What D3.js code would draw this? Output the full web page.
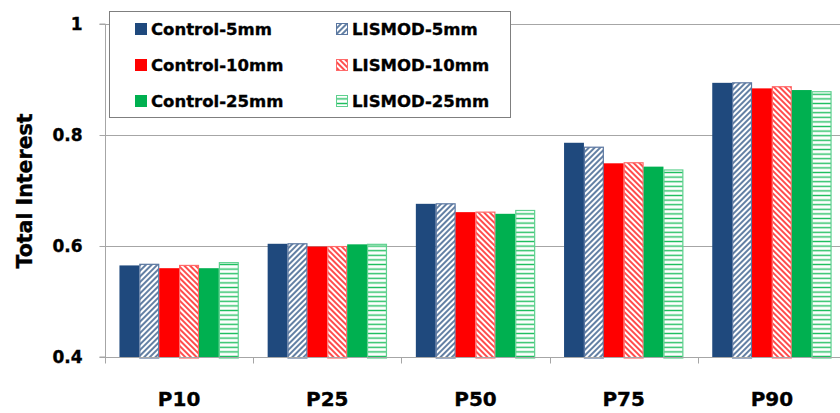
<!DOCTYPE html>
<html>
<head>
<meta charset="utf-8">
<script src="https://cdn.jsdelivr.net/npm/d3@7"></script>
<style>
  html, body { margin: 0; padding: 0; background: #fff; }
  svg { display: block; }
  text { font-family: "DejaVu Sans", Verdana, sans-serif; font-weight: bold; fill: #000;
         stroke: #000; stroke-width: 0.35px; }
</style>
</head>
<body>
<svg id="chart" width="840" height="413"></svg>
<script>
// Percentile groups along the x axis
const categories = ["P10", "P25", "P50", "P75", "P90"];

// One array per series, in the order of the categories
const control5  = [0.565, 0.604, 0.676, 0.786, 0.894];
const lismod5   = [0.567, 0.604, 0.676, 0.778, 0.894];
const control10 = [0.560, 0.599, 0.661, 0.749, 0.884];
const lismod10  = [0.565, 0.599, 0.661, 0.750, 0.887];
const control25 = [0.560, 0.603, 0.658, 0.743, 0.881];
const lismod25  = [0.570, 0.603, 0.664, 0.737, 0.878];

const seriesNames = ["Control-5mm", "LISMOD-5mm", "Control-10mm", "LISMOD-10mm", "Control-25mm", "LISMOD-25mm"];
const seriesValues = [control5, lismod5, control10, lismod10, control25, lismod25];

const yTicks = [0.4, 0.6, 0.8, 1];
const yTickLabels = ["0.4", "0.6", "0.8", "1"];

// Fill styles: solid for Control, hatched for LISMOD
const styles = [
  { color: "#1F497D", fill: "#1F497D", stroke: "none" },
  { color: "#1F497D", fill: "url(#hatch-blue)", stroke: "#5a76a0" },
  { color: "#FF0000", fill: "#FF0000", stroke: "none" },
  { color: "#FF0000", fill: "url(#hatch-red)", stroke: "#ff6a6a" },
  { color: "#00B050", fill: "#00B050", stroke: "none" },
  { color: "#00B050", fill: "url(#hatch-green)", stroke: "#5fd08f" }
];

const svg = d3.select("#chart");
const plotLeft = 105, plotRight = 846, plotTop = 24, plotBottom = 357;

const y = d3.scaleLinear().domain([0.4, 1]).range([plotBottom, plotTop]);
const x0 = d3.scaleBand().domain(categories).range([plotLeft, plotRight])
  .paddingInner(0.195).paddingOuter(0.0975);
const x1 = d3.scaleBand().domain(seriesNames).range([0, x0.bandwidth()]);

// Hatch patterns
const defs = svg.append("defs");
function hatch(id, color, angle, spacing, width) {
  const p = defs.append("pattern")
    .attr("id", id).attr("patternUnits", "userSpaceOnUse")
    .attr("width", spacing).attr("height", spacing)
    .attr("patternTransform", `rotate(${angle})`);
  p.append("rect").attr("width", spacing).attr("height", spacing).attr("fill", "#fff");
  p.append("line").attr("x1", 0).attr("y1", spacing / 2).attr("x2", spacing).attr("y2", spacing / 2)
    .attr("stroke", color).attr("stroke-width", width);
}
hatch("hatch-blue", "#1F497D", -45, 4, 1.4);
hatch("hatch-red", "#FF0000", 45, 4, 1.4);
hatch("hatch-green", "#1fbf5f", 0, 4.6, 1.4);

// Gridlines
svg.append("g").selectAll("line")
  .data(yTicks.filter(t => t > 0.4))
  .join("line")
  .attr("x1", plotLeft).attr("x2", 840)
  .attr("y1", d => Math.round(y(d)) + 0.5).attr("y2", d => Math.round(y(d)) + 0.5)
  .attr("stroke", "#a6a6a6").attr("stroke-width", 1);

// Bars
const groups = svg.append("g").selectAll("g")
  .data(categories)
  .join("g")
  .attr("transform", d => `translate(${x0(d)},0)`);

groups.selectAll("rect")
  .data((c, ci) => seriesNames.map((s, si) => ({ s, si, v: seriesValues[si][ci] })))
  .join("rect")
  .attr("x", d => x1(d.s) + (styles[d.si].stroke === "none" ? 0 : 0.5))
  .attr("width", d => x1.bandwidth() - (styles[d.si].stroke === "none" ? 0 : 1))
  .attr("y", d => y(d.v))
  .attr("height", d => y(0.4) - y(d.v) + (styles[d.si].stroke === "none" ? 0 : 1))
  .attr("fill", d => styles[d.si].fill)
  .attr("stroke", d => styles[d.si].stroke)
  .attr("stroke-width", 1.2);

// Y axis
const yAxis = d3.axisLeft(y).tickValues(yTicks)
  .tickFormat((d, i) => yTickLabels[i]).tickSize(6).tickPadding(17);
const yg = svg.append("g").attr("transform", `translate(${plotLeft + 0.5},0)`).call(yAxis);
yg.select(".domain").attr("stroke", "#a6a6a6").attr("d", `M-6,${y(1)}H0V${plotBottom}H-6`);
yg.selectAll(".tick line").attr("stroke", "#a6a6a6");
yg.selectAll(".tick text").style("font-size", "17px").attr("fill", "#000");

// X axis
const xg = svg.append("g").attr("transform", `translate(0,${plotBottom + 0.5})`);
xg.append("line").attr("x1", plotLeft).attr("x2", 840).attr("stroke", "#a6a6a6");
xg.selectAll("line.tk")
  .data(categories.map((c, i) => plotLeft + i * x0.step()))
  .join("line").attr("class", "tk")
  .attr("x1", d => Math.round(d) + 0.5).attr("x2", d => Math.round(d) + 0.5)
  .attr("y1", 0).attr("y2", 6).attr("stroke", "#a6a6a6");
xg.selectAll("text")
  .data(categories)
  .join("text")
  .attr("x", d => x0(d) + x0.bandwidth() / 2)
  .attr("y", 48)
  .attr("text-anchor", "middle")
  .style("font-size", "20px")
  .text(d => d);

// Y axis title
svg.append("text")
  .attr("transform", "translate(32,191) rotate(-90)")
  .attr("text-anchor", "middle")
  .style("font-size", "20.5px")
  .text("Total Interest");

// Legend
const legend = svg.append("g");
legend.append("rect")
  .attr("x", 109.5).attr("y", 11.5).attr("width", 401).attr("height", 106)
  .attr("fill", "#fff").attr("stroke", "#7f7f7f");
const legendCols = [135, 336];
const legendRows = [29, 65, 101];
seriesNames.forEach((name, i) => {
  const cx = legendCols[i % 2], cy = legendRows[Math.floor(i / 2)];
  const st = styles[i];
  legend.append("rect")
    .attr("x", cx + 0.5).attr("y", cy - 5.5).attr("width", 11).attr("height", 11)
    .attr("fill", st.fill)
    .attr("stroke", st.stroke === "none" ? st.color : st.stroke).attr("stroke-width", 1);
  legend.append("text")
    .attr("x", cx + 16).attr("y", cy + 6)
    .style("font-size", "16.5px")
    .text(name);
});
</script>
</body>
</html>
